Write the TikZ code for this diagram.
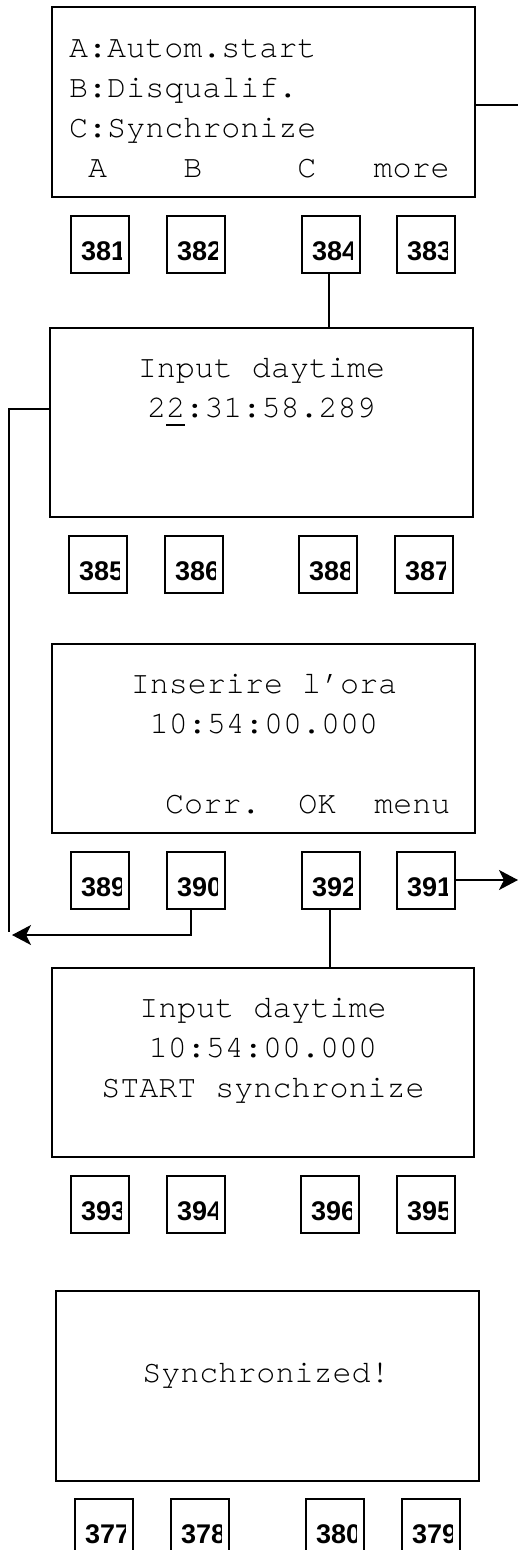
\documentclass[tikz,border=0pt]{standalone}
\usepackage{fontspec}
\newfontfamily\lcdfont{texgyrecursor-regular.otf}
\newfontfamily\keyfont{Liberation Sans}
\usetikzlibrary{arrows.meta}
\newcommand\keybtn[3]{%
  \node[keybox] (k#3) at (#1,#2) {};
  \begin{scope}
    \clip (#1+1,#2+1) rectangle (#1+50,#2+56);
    \node[keytext] (t#3) at (#1+10,#2+44) {#3};
  \end{scope}}
\begin{document}
\begin{tikzpicture}[x=1pt,y=-1pt,
  screen/.style={draw, line width=1.8pt, rectangle, inner sep=0pt, outer sep=0pt, anchor=north west},
  keybox/.style={draw, line width=1.5pt, rectangle, minimum width=58pt, minimum height=57pt, inner sep=0pt, outer sep=0pt, anchor=north west},
  keytext/.style={inner sep=0pt, anchor=base west, font=\keyfont\bfseries\fontsize{27}{30}\selectfont},
  lcd/.style={inner sep=0pt, font=\lcdfont\fontsize{31.7}{38}\selectfont},
  link/.style={line width=1.3pt},
  arr/.style={link, -{Stealth[length=19pt,width=20pt,inset=5pt]}}]
\fill[white] (0,0) rectangle (518,1550);
\clip (0,0) rectangle (518,1550);

% ---- screen 1
\node[screen, minimum width=423pt, minimum height=190pt] (s1) at (52,7) {};
\node[lcd, anchor=base west] (s1a) at (69,57) {A:Autom.start};
\node[lcd, anchor=base west] (s1b) at (69,97) {B:Disqualif.};
\node[lcd, anchor=base west] (s1c) at (69,137) {C:Synchronize};
\node[lcd, anchor=base west] (s1d) at (69,177) {~A~~~~B~~~~~C~~~more};
\keybtn{71}{216}{381}
\keybtn{167}{216}{382}
\keybtn{302}{216}{384}
\keybtn{397}{216}{383}

% ---- screen 2
\node[screen, minimum width=423pt, minimum height=189pt] (s2) at (50,328) {};
\node[lcd, anchor=base] (s2a) at (261.5,377) {Input daytime};
\node[lcd, anchor=base] (s2b) at (261.5,417) {22:31:58.289};
\draw[line width=1.5pt] (166,425) -- (185,425);
\keybtn{69}{536}{385}
\keybtn{165}{536}{386}
\keybtn{299}{536}{388}
\keybtn{395}{536}{387}

% ---- screen 3
\node[screen, minimum width=423pt, minimum height=189pt] (s3) at (52,644) {};
\node[lcd, anchor=base] (s3a) at (264,693) {Inserire l’ora};
\node[lcd, anchor=base] (s3b) at (264,733) {10:54:00.000};
\node[lcd, anchor=base west] (s3c) at (165,813) {Corr.~~OK~~menu};
\keybtn{71}{852}{389}
\keybtn{167}{852}{390}
\keybtn{302}{852}{392}
\keybtn{397}{852}{391}

% ---- screen 4
\node[screen, minimum width=422pt, minimum height=189pt] (s4) at (52,968) {};
\node[lcd, anchor=base] (s4a) at (263,1017) {Input daytime};
\node[lcd, anchor=base] (s4b) at (263,1057) {10:54:00.000};
\node[lcd, anchor=base] (s4c) at (263,1097) {START synchronize};
\keybtn{71}{1176}{393}
\keybtn{167}{1176}{394}
\keybtn{301}{1176}{396}
\keybtn{397}{1176}{395}

% ---- screen 5
\node[screen, minimum width=423pt, minimum height=190pt] (s5) at (56,1291) {};
\node[lcd, anchor=base] (s5a) at (266,1382) {Synchronized!};
\keybtn{75}{1499}{377}
\keybtn{171}{1499}{378}
\keybtn{306}{1499}{380}
\keybtn{402}{1499}{379}

% ---- connectors
\coordinate (r1) at (518,105);
\draw[link] (s1.east |- r1) -- (r1);
\draw[link] ([xshift=-2pt]k384.south) -- ([xshift=-2pt]k384.south |- s2.north);
\coordinate (l0) at (9,409);
\coordinate (l1) at (9,932);
\draw[link] (s2.west |- l0) -- (l0) -- (l1);
\coordinate (a1) at (12,935);
\draw[arr] ([xshift=-5pt]k390.south) |- (a1);
\coordinate (a2) at (518,880);
\draw[arr] (k391.east |- a2) -- (a2);
\draw[link] ([xshift=-1pt]k392.south) -- ([xshift=-1pt]k392.south |- s4.north);
\end{tikzpicture}
\end{document}
